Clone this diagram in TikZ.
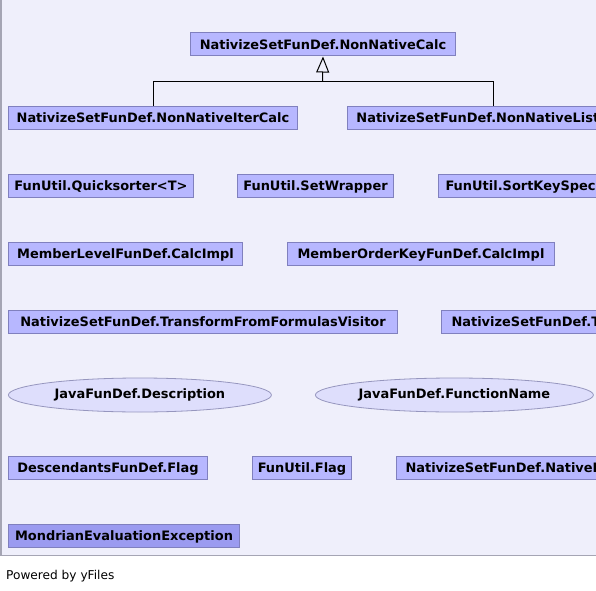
\documentclass[tikz,border=0pt]{standalone}
\usepackage{fontspec}
\setmainfont{DejaVu Sans}
\usetikzlibrary{arrows.meta}
\definecolor{bgc}{RGB}{239,239,251}
\definecolor{panelborder}{RGB}{165,165,180}
\definecolor{boxfill}{RGB}{183,183,255}
\definecolor{boxdraw}{RGB}{128,128,190}
\definecolor{exfill}{RGB}{155,155,240}
\definecolor{ellfill}{RGB}{222,222,252}
\definecolor{elldraw}{RGB}{150,150,190}
\tikzset{
  cls/.style={draw=boxdraw, fill=boxfill, line width=1bp, rectangle, minimum height=23bp, inner xsep=0pt, inner ysep=0pt, font=\fontsize{13}{15}\selectfont\bfseries, anchor=west, text depth=0pt},
  exc/.style={cls, fill=exfill},
  ell/.style={draw=elldraw, fill=ellfill, line width=0.8bp, ellipse, minimum height=34bp, inner sep=0pt, font=\fontsize{13}{15}\selectfont\bfseries, anchor=west},
  edge/.style={draw=black, line width=1bp},
}
\usetikzlibrary{shapes.geometric}
\begin{document}
\begin{tikzpicture}[x=1bp, y=-1bp]
\useasboundingbox (0,0) rectangle (596,591);
\clip (0,0) rectangle (596,591);
\fill[white] (0,0) rectangle (596,591);
\fill[bgc] (0,0) rectangle (596,555);
\draw[panelborder, line width=1.5bp] (0.75,0) -- (0.75,555.25) -- (596,555.25);

\node[cls, minimum width=265bp] (calc) at (190,44.5) {NativizeSetFunDef.NonNativeCalc};
\node[cls, minimum width=289bp] (iter) at (8,118) {NativizeSetFunDef.NonNativeIterCalc};
\node[cls, minimum width=291bp] (list) at (347,118) {NativizeSetFunDef.NonNativeListCalc};

\node[cls, minimum width=185bp] (qs) at (8,185.5) {FunUtil.Quicksorter<T>};
\node[cls, minimum width=156bp] (sw) at (237,185.5) {FunUtil.SetWrapper};
\node[cls, inner xsep=7bp] (sks) at (438,185.5) {FunUtil.SortKeySpec};

\node[cls, minimum width=234bp] (mlc) at (8,253.5) {MemberLevelFunDef.CalcImpl};
\node[cls, minimum width=267bp] (mokc) at (287,253.5) {MemberOrderKeyFunDef.CalcImpl};

\node[cls, minimum width=389bp] (tffv) at (8,321.5) {NativizeSetFunDef.TransformFromFormulasVisitor};
\node[cls, inner xsep=10bp] (ttfv) at (441,321.5) {NativizeSetFunDef.TransformToFormulasVisitor};

\node[ell, minimum width=263bp] (desc) at (8,395) {JavaFunDef.Description};
\node[ell, minimum width=278bp] (fname) at (315,395) {JavaFunDef.FunctionName};

\node[cls, minimum width=199bp] (dflag) at (8,468) {DescendantsFunDef.Flag};
\node[cls, minimum width=99bp] (fflag) at (252,468) {FunUtil.Flag};
\node[cls, inner xsep=9bp] (nlc) at (396,468) {NativizeSetFunDef.NativeListCalc};

\node[exc, minimum width=231bp] (mee) at (8,535.5) {MondrianEvaluationException};

\coordinate (j) at (322.5,81.5);
\draw[edge] (iter.north) |- (j) -| (list.north);
\draw[edge, -{Triangle[open, length=16bp, width=13bp, line width=1bp]}] (j) -- (calc.south);

\node[anchor=west, inner sep=0pt, font=\fontsize{12.2}{14}\selectfont] (pw) at (6,576) {Powered by yFiles};
\end{tikzpicture}
\end{document}
